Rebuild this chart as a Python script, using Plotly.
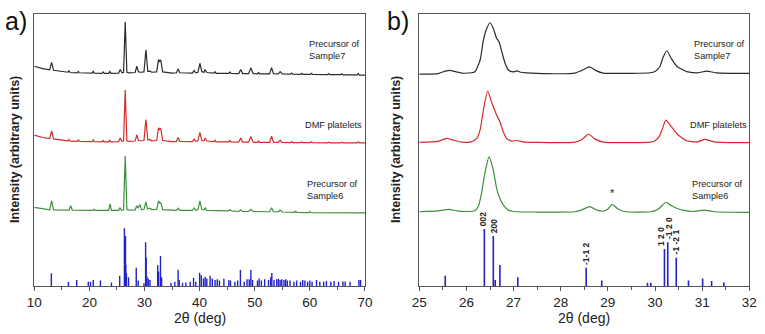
import plotly.graph_objects as go

# ---------------- Panel a) data (2theta 10-70) ----------------
a_x = [10, 11.5, 12.8, 13.15, 13.5, 15, 16.1, 16.3, 16.5, 17.8, 18.0, 18.2, 20.5, 20.7, 20.9,
       22.3, 22.5, 22.7, 23.5, 23.7, 23.9, 25.3, 25.6, 25.9, 26.2, 26.5, 26.8, 27.2, 28.3, 28.6,
       28.9, 29.3, 29.9, 30.25, 30.6, 31.0, 31.3, 32.2, 32.55, 32.75, 32.95, 33.3, 35.0, 35.8,
       36.1, 36.4, 38.7, 39.0, 39.3, 39.7, 40.05, 40.4, 40.8, 41.0, 41.3, 42.6, 42.8, 43.0, 44.0,
       45.3, 45.5, 45.7, 47.1, 47.45, 47.8, 48.9, 49.3, 49.7, 50.5, 50.7, 50.9, 52.7, 53.05, 53.4,
       54.3, 54.6, 55.0, 56.5, 56.7, 56.9, 58.3, 58.5, 58.7, 60.1, 60.3, 60.5, 63.2, 63.4, 63.6,
       65.6, 65.8, 66.0, 68.6, 68.8, 69.0, 70]
a_sample7 = [80.8, 79.9, 79.5, 82.2, 79.3, 78.8, 78.6, 79.1, 78.5, 78.4, 78.9, 78.4, 78.3, 78.9, 78.3,
             78.2, 78.7, 78.2, 78.2, 78.9, 78.2, 78.3, 79.6, 78.4, 78.5, 97.2, 78.6, 78.4, 78.5, 80.8,
             78.7, 78.6, 78.7, 86.8, 78.9, 79.0, 78.6, 78.7, 83.3, 82.6, 83.1, 78.7, 78.3, 78.4,
             79.8, 78.4, 78.3, 79.2, 78.4, 78.6, 81.9, 78.8, 78.6, 79.6, 78.5, 78.3, 78.8, 78.2, 78.2,
             78.2, 78.7, 78.2, 78.1, 79.6, 78.1, 78.1, 80.2, 78.1, 78.0, 78.5, 78.0, 78.0, 80.3, 78.1,
             78.0, 78.8, 78.0, 77.9, 78.3, 77.9, 77.8, 78.2, 77.8, 77.8, 78.2, 77.8, 77.7, 78.1, 77.7,
             77.7, 78.0, 77.6, 77.6, 78.1, 77.5, 77.5]
a_dmf = [55.5, 54.6, 54.2, 57.0, 54.1, 53.6, 53.4, 53.9, 53.3, 53.2, 53.7, 53.2, 53.1, 53.7, 53.1,
         53.0, 53.5, 53.0, 53.0, 53.7, 53.0, 53.1, 54.4, 53.2, 53.3, 72.1, 53.4, 53.2, 53.3, 55.6,
         53.5, 53.4, 53.5, 61.2, 53.7, 53.8, 53.4, 53.5, 58.2, 57.5, 57.9, 53.5, 53.1, 53.2,
         54.6, 53.2, 53.1, 54.0, 53.2, 53.4, 56.5, 53.6, 53.4, 54.4, 53.3, 53.1, 53.6, 53.0, 53.0,
         53.0, 53.5, 53.0, 52.9, 54.4, 52.9, 52.9, 55.0, 52.9, 52.8, 53.3, 52.8, 52.8, 55.1, 52.9,
         52.8, 53.6, 52.8, 52.7, 53.1, 52.7, 52.7, 53.0, 52.7, 52.7, 53.0, 52.7, 52.6, 52.9, 52.6,
         52.6, 52.9, 52.6, 52.6, 53.0, 52.6, 52.6]

a_x6 = [10, 11.5, 12.8, 13.15, 13.5, 16.3, 16.6, 16.9, 20.6, 20.8, 21.0, 23.5, 23.75, 24.0, 25.3,
        25.55, 25.8, 26.2, 26.5, 26.8, 27.2, 28.3, 28.6, 28.85, 29.15, 29.45, 29.9, 30.25, 30.55,
        31.0, 31.3, 32.2, 32.55, 32.75, 32.95, 33.3, 35.8, 36.1, 36.4, 38.7, 39.0, 39.3, 39.7,
        40.05, 40.4, 40.8, 41.0, 41.3, 45.2, 45.5, 45.8, 47.1, 47.45, 47.8, 48.9, 49.3, 49.7,
        52.7, 53.05, 53.4, 54.3, 54.6, 55.0, 57.2, 57.4, 57.6, 59.8, 60.0, 60.2, 70]
a_sample6 = [28.9, 28.3, 28.0, 31.3, 28.0, 27.9, 29.5, 27.9, 27.8, 28.2, 27.8, 27.8, 30.2, 27.8, 27.8,
             28.7, 27.9, 28.0, 47.8, 28.1, 27.9, 28.0, 29.5, 28.6, 30.0, 28.1, 28.2, 30.9, 28.3,
             28.6, 28.1, 28.2, 31.3, 30.5, 30.6, 28.1, 27.8, 28.6, 27.8, 27.8, 28.7, 27.8, 28.0,
             31.3, 28.1, 28.0, 28.7, 27.8, 27.6, 28.1, 27.6, 27.4, 28.0, 27.4, 27.4, 28.2, 27.4,
             27.3, 28.8, 27.3, 27.3, 27.9, 27.2, 27.1, 27.5, 27.1, 27.0, 27.4, 27.0, 26.9]

a_ref_pos = [13.1, 16.2, 17.7, 19.8, 20.2, 20.7, 22.0, 24.0, 25.5, 26.35, 26.55, 26.6, 26.72, 27.1,
             28.5, 28.85, 29.9, 30.2, 30.3, 30.45, 30.7, 31.0, 32.4, 32.55, 32.9, 33.1, 34.8, 35.5,
             36.1, 36.3, 36.9, 37.5, 38.3, 38.9, 39.3, 40.0, 40.3, 40.7, 41.0, 41.3, 41.9, 42.3,
             42.8, 43.2, 43.6, 44.4, 45.3, 45.6, 46.4, 46.9, 47.4, 48.1, 48.6, 49.0, 49.3, 49.6,
             50.5, 50.8, 51.2, 51.8, 52.5, 52.9, 53.1, 53.5, 54.0, 54.3, 54.6, 54.9, 55.3, 55.6,
             55.9, 56.4, 57.1, 57.6, 58.3, 58.7, 59.1, 59.6, 60.0, 60.4, 61.2, 61.8, 62.5, 63.0,
             63.8, 64.4, 65.2, 66.0, 66.4, 67.3, 68.9, 69.2]
a_ref_int = [4.7, 1.6, 2.2, 1.6, 1.6, 2.2, 2.0, 1.3, 3.8, 21.2, 18.4, 7.7, 4.7, 3.2,
             6.7, 2.0, 1.0, 16.1, 10.5, 3.4, 2.7, 2.2, 7.6, 5.3, 11.0, 3.2, 1.2, 1.6,
             6.0, 2.2, 1.2, 1.2, 1.6, 3.0, 1.6, 4.9, 4.0, 2.8, 3.4, 2.8, 3.8, 2.8,
             2.2, 2.5, 2.0, 2.7, 2.2, 2.0, 1.6, 2.0, 5.9, 1.6, 2.5, 2.5, 5.9, 2.2,
             2.0, 2.8, 2.0, 2.5, 2.2, 3.2, 4.8, 2.2, 2.5, 2.7, 2.2, 2.5, 2.2, 2.5,
             2.0, 2.0, 1.6, 2.0, 1.6, 2.2, 2.0, 1.6, 2.0, 1.6, 2.2, 1.6, 1.6, 1.8,
             1.6, 1.8, 1.6, 1.7, 1.7, 1.6, 2.2, 2.2]

# ---------------- Panel b) data (2theta 25-32) ----------------
b_x7 = [25, 25.4, 25.55, 25.65, 25.75, 25.9, 26.1, 26.18, 26.29, 26.36, 26.43, 26.5, 26.57, 26.64,
        26.69, 26.76, 26.82, 26.89, 26.99, 27.07, 27.15, 27.5, 28.3, 28.45, 28.61, 28.75, 28.9,
        29.5, 29.9, 30.0, 30.1, 30.17, 30.25, 30.35, 30.47, 30.57, 30.67, 30.9, 31.1, 31.3, 32]
b_sample7 = [77.9, 78.1, 79.0, 79.3, 78.9, 78.3, 78.4, 78.8, 83.1, 90.4, 94.7, 96.8, 94.7, 91.1,
             89.8, 85.5, 81.9, 79.4, 78.7, 79.1, 78.6, 78.2, 78.3, 79.3, 80.6, 79.2, 78.3,
             78.2, 78.4, 78.9, 80.6, 84.0, 86.5, 83.5, 80.6, 79.7, 78.8, 78.4, 79.0, 78.4, 78.2]

b_xd = [25, 25.4, 25.58, 25.75, 25.9, 26.1, 26.22, 26.29, 26.36, 26.45, 26.54, 26.64, 26.71, 26.78,
        26.85, 26.96, 27.07, 27.2, 27.5, 28.3, 28.45, 28.59, 28.73, 28.9, 29.5, 29.9, 30.0, 30.1,
        30.17, 30.23, 30.35, 30.47, 30.57, 30.67, 30.9, 31.06, 31.25, 32]
b_dmf = [52.8, 53.2, 54.3, 53.5, 52.9, 53.0, 54.3, 57.4, 64.7, 71.7, 67.2, 62.9, 60.4, 56.7,
         54.3, 53.3, 53.5, 53.0, 52.8, 52.9, 53.9, 55.8, 54.0, 52.9, 52.7, 52.9, 53.4, 55.3,
         58.5, 61.0, 58.5, 55.9, 54.5, 53.4, 53.0, 53.9, 53.0, 52.7]

b_x6 = [25, 25.4, 25.62, 25.8, 26.0, 26.18, 26.25, 26.32, 26.39, 26.48, 26.57, 26.64, 26.71, 26.78,
        26.89, 27.0, 27.5, 28.3, 28.45, 28.61, 28.77, 28.9, 29.0, 29.09, 29.2, 29.35, 29.9, 30.05,
        30.15, 30.23, 30.35, 30.5, 30.62, 30.8, 31.04, 31.25, 32]
b_sample6 = [27.3, 27.6, 28.2, 27.6, 27.4, 27.7, 29.2, 34.1, 41.4, 47.5, 42.6, 35.9, 32.2, 29.8,
             27.9, 27.4, 27.2, 27.3, 28.0, 29.2, 27.9, 27.5, 28.3, 30.0, 28.5, 27.4, 27.3, 28.0,
             29.6, 30.8, 29.5, 28.3, 27.8, 27.4, 27.9, 27.3, 27.1]

b_ref_pos = [25.55, 26.38, 26.57, 26.61, 26.71, 27.09, 28.54, 28.87, 29.84, 29.91, 30.20, 30.27,
             30.45, 30.71, 31.01, 31.20, 31.46]
b_ref_int = [3.8, 21.0, 18.4, 2.2, 7.7, 3.2, 6.7, 2.0, 1.2, 1.2, 13.6, 16.1, 10.4, 2.0, 2.8, 1.8, 1.3]
b_hkl_pos = [26.38, 26.57, 28.54, 30.20, 30.27, 30.45]
b_hkl_int = [21.0, 18.4, 6.7, 13.6, 16.1, 10.4]
b_hkl_lab = ["002", "200", "-1-1 2", "1 2 0", "-1 2 0", "-1 -2 1"]

labels = ["Precursor of<br>Sample7", "DMF platelets", "Precursor of<br>Sample6"]
a_label_x = [59.5, 58.8, 59.1]
b_label_x = [30.78, 30.71, 30.74]
label_y = [86.9, 59.2, 35.3]

assert len(a_x) == len(a_sample7) == len(a_dmf)
assert len(a_x6) == len(a_sample6)
assert len(a_ref_pos) == len(a_ref_int)
assert len(b_x7) == len(b_sample7)
assert len(b_xd) == len(b_dmf)
assert len(b_x6) == len(b_sample6)
assert len(b_ref_pos) == len(b_ref_int)

BLACK = "#2b2b2b"
RED = "#d42a2a"
GREEN = "#3d8f3d"
BLUE = "#2222c8"
FONT = "Arial, Liberation Sans, sans-serif"


def sticks(pos, inten):
    xs, ys = [], []
    for p, h in zip(pos, inten):
        xs += [p, p, None]
        ys += [0, h, None]
    return xs, ys


fig = go.Figure()

# panel a
for xs, ys, c in [(a_x, a_sample7, BLACK), (a_x, a_dmf, RED), (a_x6, a_sample6, GREEN)]:
    fig.add_trace(go.Scatter(x=xs, y=ys, mode="lines", line=dict(color=c, width=1.2),
                             xaxis="x", yaxis="y", showlegend=False))
sx, sy = sticks(a_ref_pos, a_ref_int)
fig.add_trace(go.Scatter(x=sx, y=sy, mode="lines", line=dict(color=BLUE, width=1.4),
                         xaxis="x", yaxis="y", showlegend=False))

# panel b
for xs, ys, c in [(b_x7, b_sample7, BLACK), (b_xd, b_dmf, RED), (b_x6, b_sample6, GREEN)]:
    fig.add_trace(go.Scatter(x=xs, y=ys, mode="lines",
                             line=dict(color=c, width=1.2, shape="spline", smoothing=0.6),
                             xaxis="x2", yaxis="y2", showlegend=False))
sx, sy = sticks(b_ref_pos, b_ref_int)
fig.add_trace(go.Scatter(x=sx, y=sy, mode="lines", line=dict(color=BLUE, width=1.6),
                         xaxis="x2", yaxis="y2", showlegend=False))

ydom = [0.1437, 0.958]
axcommon = dict(showline=True, linecolor="#555555", linewidth=1, mirror=True, showgrid=False,
                zeroline=False, ticks="outside", ticklen=4, tickcolor="#555555", automargin=False,
                tickfont=dict(family=FONT, size=13.5, color="#222222"))
yaxcommon = dict(showline=True, linecolor="#555555", linewidth=1, mirror=True, showgrid=False,
                 zeroline=False, showticklabels=False, ticks="", range=[0, 100], automargin=False)

fig.update_layout(
    width=765, height=334, margin=dict(l=0, r=0, t=0, b=0, autoexpand=False),
    paper_bgcolor="white", plot_bgcolor="white",
    xaxis=dict(domain=[0.0448, 0.4771], range=[10, 70], dtick=10, anchor="y",
               minor=dict(dtick=5, ticks="outside", ticklen=3, tickcolor="#555555"),
               **axcommon),
    yaxis=dict(domain=ydom, anchor="x", **yaxcommon),
    xaxis2=dict(domain=[0.5481, 0.9795], range=[25, 32], dtick=1, anchor="y2",
                minor=dict(dtick=0.5, ticks="outside", ticklen=3, tickcolor="#555555"),
                **axcommon),
    yaxis2=dict(domain=ydom, anchor="x2", **yaxcommon),
)

ann = []
# panel letters
ann.append(dict(text="a)", x=3 / 765, y=1 - 21 / 334, xref="paper", yref="paper", xanchor="left",
                yanchor="middle", showarrow=False, font=dict(family=FONT, size=25, color="#111111")))
ann.append(dict(text="b)", x=385 / 765, y=1 - 21 / 334, xref="paper", yref="paper", xanchor="left",
                yanchor="middle", showarrow=False, font=dict(family=FONT, size=25, color="#111111")))
# x titles
for xc in [199.5, 584.3]:
    ann.append(dict(text="2θ (deg)", x=xc / 765, y=(334 - 318) / 334, xref="paper", yref="paper",
                    xanchor="center", yanchor="middle", showarrow=False,
                    font=dict(family=FONT, size=14, color="#222222")))
# y titles
for xp in [15, 396]:
    ann.append(dict(text="<b>Intensity (arbitrary units)</b>", x=xp / 765, y=(334 - 150) / 334,
                    xref="paper", yref="paper", textangle=-90, showarrow=False,
                    xanchor="center", yanchor="middle",
                    font=dict(family=FONT, size=12.5, color="#222222")))
# sample labels
for xr, yr, xs in [("x", "y", a_label_x), ("x2", "y2", b_label_x)]:
    for t, xx, yy in zip(labels, xs, label_y):
        ann.append(dict(text=t, x=xx, y=yy, xref=xr, yref=yr, xanchor="left", yanchor="middle",
                        align="left", showarrow=False,
                        font=dict(family=FONT, size=9.2, color="#222222")))
# asterisk
ann.append(dict(text="*", x=29.09, y=31.2, xref="x2", yref="y2", xanchor="center", yanchor="bottom",
                showarrow=False, font=dict(family=FONT, size=11, color="#222222")))
# hkl labels
hkl_xshift = [-1, 1, 0, -4, 1, 0]
for p, h, t, dx in zip(b_hkl_pos, b_hkl_int, b_hkl_lab, hkl_xshift):
    ann.append(dict(text="<b>" + t + "</b>", x=p, y=h, xref="x2", yref="y2", textangle=-90,
                    xanchor="center", yanchor="bottom", yshift=1, xshift=dx, showarrow=False,
                    font=dict(family=FONT, size=8.5, color="#222222")))

fig.update_layout(annotations=ann)
fig.write_html("out.html", config={"displayModeBar": False},
               post_script="document.body.style.margin='0';document.body.style.overflow='hidden';")
